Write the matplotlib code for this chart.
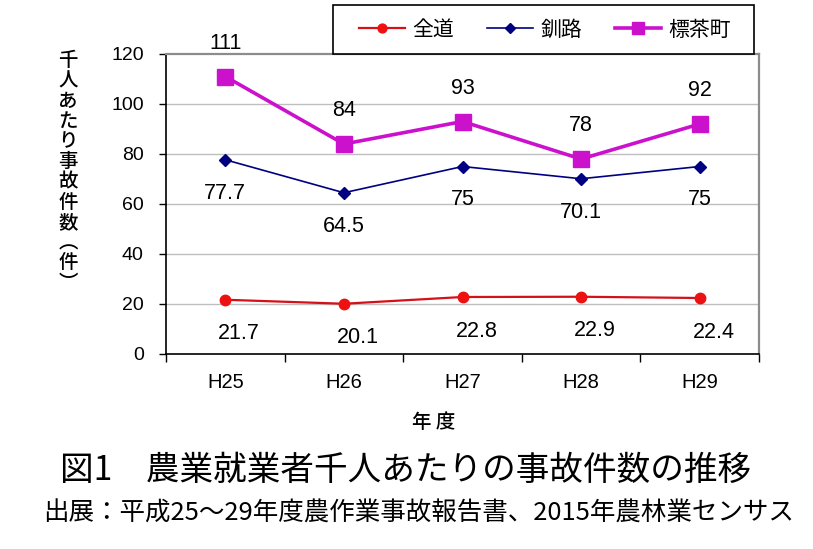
import matplotlib
matplotlib.use("Agg")
import matplotlib.pyplot as plt
from matplotlib.patches import Rectangle
from matplotlib.ticker import FixedLocator
import numpy as np

plt.rcParams['font.family'] = ['Liberation Sans', 'Noto Sans CJK JP', 'DejaVu Sans']

years = ["H25", "H26", "H27", "H28", "H29"]
zendo = [21.7, 20.1, 22.8, 22.9, 22.4]
kushiro = [77.7, 64.5, 75, 70.1, 75]
shibecha = [111, 84, 93, 78, 92]
series_names = ["全道", "釧路", "標茶町"]
y_ticks = [0, 20, 40, 60, 80, 100, 120]
ylabel_text = "千人あたり事故件数︵件︶"
xlabel_text = "年 度"
title_text = "図1　農業就業者千人あたりの事故件数の推移"
source_text = "出展：平成25～29年度農作業事故報告書、2015年農林業センサス"

CJK = ['Noto Sans CJK JP', 'DejaVu Sans']

W, H = 813, 549
fig = plt.figure(figsize=(W / 100, H / 100), dpi=100)
ax = fig.add_axes([166 / W, 1 - 354 / H, (759 - 166) / W, (354 - 54) / H])

x = np.arange(len(years))
ax.set_xlim(-0.5, len(years) - 0.5)
ax.set_ylim(y_ticks[0], y_ticks[-1])

for v in y_ticks[1:-1]:
    ax.axhline(v, color='#BEBEBE', lw=1.0, zorder=0)

l1, = ax.plot(x, zendo, color='#D41018', lw=1.6, marker='o', ms=7.5,
              mfc='#EE1111', mec='#EE1111', label=series_names[0], zorder=3)
l2, = ax.plot(x, kushiro, color='#000080', lw=1.2, marker='D', ms=6.5,
              mfc='#000080', mec='#000080', label=series_names[1], zorder=3)
l3, = ax.plot(x, shibecha, color='#CC11CC', lw=2.6, marker='s', ms=11,
              mfc='#CC11CC', mec='#CC11CC', label=series_names[2], zorder=3)

lab_fs = 15.5
for xi, v in zip(x, shibecha):
    ax.annotate(f"{v:g}", (xi, v), xytext=(0, 24), textcoords='offset points',
                ha='center', va='center', fontsize=lab_fs, annotation_clip=False)
for xi, v in zip(x, kushiro):
    ax.annotate(f"{v:g}", (xi, v), xytext=(0, -24), textcoords='offset points',
                ha='center', va='center', fontsize=lab_fs)
for xi, v in zip(x, zendo):
    ax.annotate(f"{v:g}", (xi, v), xytext=(10, -24.5), textcoords='offset points',
                ha='center', va='center', fontsize=lab_fs)

ax.set_xticks(x)
ax.set_xticklabels(years, fontsize=14.5)
ax.xaxis.set_minor_locator(FixedLocator(np.arange(-0.5, len(years), 1.0)))
ax.tick_params(axis='x', which='major', length=0, pad=14)
ax.tick_params(axis='x', which='minor', length=6, width=1, color='black', direction='out')
ax.set_yticks(y_ticks)
ax.set_yticklabels([str(t) for t in y_ticks], fontsize=14)
ax.tick_params(axis='y', which='major', length=5, width=1, pad=11, direction='out')

for s in ['left', 'bottom']:
    ax.spines[s].set_color('black')
    ax.spines[s].set_linewidth(1.2)
for s in ['top', 'right']:
    ax.spines[s].set_color('#8C8C8C')
    ax.spines[s].set_linewidth(1.6)

# vertical y label
fig.text(68 / W, 1 - 172 / H, "\n".join(ylabel_text), ha='center', va='center',
         fontsize=14, family=CJK, linespacing=1.08, fontweight='medium')

fig.text(434 / W, 1 - 422 / H, xlabel_text, ha='center', va='center',
         fontsize=14, family=CJK, fontweight='medium')

fig.text(406 / W, 1 - 470 / H, title_text, ha='center', va='center',
         fontsize=24.2, family=CJK)
fig.text(419 / W, 1 - 514 / H, source_text, ha='center', va='center',
         fontsize=18.4, family=CJK)

# legend box
fig.patches.append(Rectangle((333 / W, 1 - 54 / H), (754 - 333) / W, 49 / H,
                             transform=fig.transFigure, fill=True, facecolor='white',
                             edgecolor='black', lw=1.2, zorder=5))
leg = fig.legend(handles=[l1, l2, l3], loc='center', bbox_to_anchor=(545 / W, 1 - 29.5 / H),
                 ncol=3, frameon=False, handlelength=2.2,
                 handletextpad=0.35, columnspacing=1.6, markerscale=0.85,
                 prop={'family': CJK, 'size': 15})
leg.set_zorder(6)

fig.savefig("out.png", dpi=100)
